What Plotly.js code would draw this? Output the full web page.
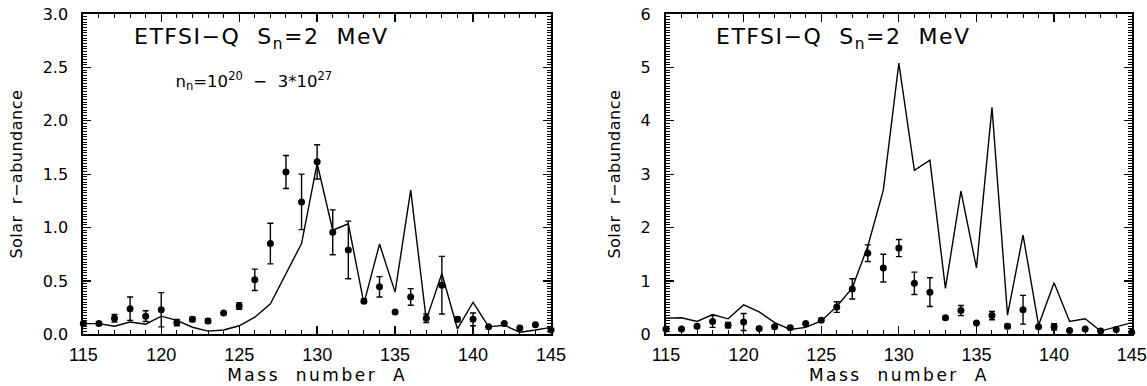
<!DOCTYPE html>
<html><head><meta charset="utf-8">
<script src="https://cdn.plot.ly/plotly-3.0.1.min.js"></script>
<style>
html,body{margin:0;padding:0;background:#fff}#chart{width:1147px;height:386px}
.annotation-text{letter-spacing:1.5px}
.annotation[data-index="1"] .annotation-text{letter-spacing:0}
.xtitle,.x2title{letter-spacing:2.5px}
.ytitle,.y2title{letter-spacing:0.5px}
</style>
</head><body><div id="chart"></div>
<script>
// Mass numbers
const massNumbers = [115,116,117,118,119,120,121,122,123,124,125,126,127,128,129,130,131,132,133,134,135,136,137,138,139,140,141,142,143,144,145];
// Solar r-process abundances (points) and their errors
const solarAbund = [0.10,0.10,0.15,0.24,0.17,0.23,0.11,0.14,0.125,0.20,0.265,0.51,0.85,1.52,1.24,1.615,0.955,0.79,0.31,0.445,0.21,0.35,0.15,0.46,0.14,0.14,0.07,0.10,0.06,0.09,0.04];
const solarErr   = [0.01,0.01,0.035,0.11,0.05,0.16,0.03,0.02,0.02,0,0.03,0.10,0.19,0.155,0.26,0.16,0.21,0.27,0.02,0.095,0,0.078,0.04,0.27,0.02,0.06,0,0,0,0,0];
// Calculated abundances, left panel (n_n = 1e20 - 3e27)
const calcLeft  = [0.10,0.10,0.075,0.115,0.095,0.17,0.13,0.066,0.03,0.04,0.08,0.16,0.285,0.57,0.85,1.60,0.975,1.035,0.29,0.845,0.395,1.35,0.135,0.57,0.05,0.30,0.07,0.085,0.02,0.04,0.065];
// Calculated abundances, right panel
const calcRight = [0.30,0.31,0.24,0.37,0.29,0.55,0.42,0.22,0.09,0.13,0.25,0.52,0.87,1.65,2.70,5.08,3.07,3.26,0.86,2.68,1.245,4.25,0.36,1.86,0.17,0.965,0.24,0.29,0.06,0.14,0.22];

const xTickVals = [115,120,125,130,135,140,145];
const leftYTicks = [0,0.5,1,1.5,2,2.5,3];
const leftYText = ['0.0','0.5','1.0','1.5','2.0','2.5','3.0'];
const rightYTicks = [0,1,2,3,4,5,6];

const FONT = 'DejaVu Sans, sans-serif';
const XTICKFONT = 'Liberation Sans, Arial, sans-serif';

function lineTrace(y, xa, ya){
  return {x: massNumbers, y: y, xaxis: xa, yaxis: ya, mode: 'lines', type: 'scatter',
    line: {color: '#000', width: 1.4}, hoverinfo: 'skip', showlegend: false, cliponaxis: false};
}
function pointTrace(xa, ya){
  return {x: massNumbers, y: solarAbund, xaxis: xa, yaxis: ya, mode: 'markers', type: 'scatter',
    marker: {color: '#000', size: 7}, showlegend: false, cliponaxis: false,
    error_y: {type: 'data', array: solarErr, visible: true, color: '#000', thickness: 1.4, width: 3}};
}

const data = [
  lineTrace(calcLeft, 'x', 'y'), pointTrace('x', 'y'),
  lineTrace(calcRight, 'x2', 'y2'), pointTrace('x2', 'y2')
];

function xAxis(domain, anchor){
  return {domain: domain, anchor: anchor, range: [115,145], tickmode: 'array', tickvals: xTickVals,
    ticks: 'inside', ticklen: 8, tickwidth: 1.3, tickcolor: '#000',
    minor: {dtick: 1, tick0: 115, ticks: 'inside', ticklen: 4, tickwidth: 1, tickcolor: '#000'},
    showline: true, linewidth: 2, linecolor: '#000', mirror: 'allticks',
    showgrid: false, zeroline: false, tickfont: {family: XTICKFONT, size: 18, color: '#000'},
    ticklabelstandoff: 3, ticklabeloverflow: 'allow',
    title: {text: 'Mass\u00a0\u00a0number\u00a0\u00a0A', font: {family: FONT, size: 17, color: '#000'}, standoff: 0}};
}
function yAxis(domain, anchor, range, tv, tt, minorD){
  return {domain: domain, anchor: anchor, range: range, tickmode: 'array', tickvals: tv, ticktext: tt,
    ticks: 'inside', ticklen: 8, tickwidth: 1.3, tickcolor: '#000',
    minor: {dtick: minorD, tick0: 0, ticks: 'inside', ticklen: 4, tickwidth: 1, tickcolor: '#000'},
    showline: true, linewidth: 2, linecolor: '#000', mirror: 'allticks',
    showgrid: false, zeroline: false, tickfont: {family: FONT, size: 16, color: '#000'},
    ticklabelstandoff: 10, ticklabeloverflow: 'allow',
    title: {text: 'Solar\u00a0\u00a0r\u2212abundance', font: {family: FONT, size: 16, color: '#000'}, standoff: 16}};
}

const yDom = [1 - 334.3/386, 1 - 14/386];
const layout = {
  width: 1147, height: 386, margin: {l: 0, r: 0, t: 0, b: 0},
  paper_bgcolor: '#fff', plot_bgcolor: '#fff',
  xaxis: xAxis([83.3/1147, 551/1147], 'y'),
  yaxis: yAxis(yDom, 'x', [0,3], leftYTicks, leftYText, 0.025),
  xaxis2: xAxis([666/1147, 1131.7/1147], 'y2'),
  yaxis2: yAxis(yDom, 'x2', [0,6], rightYTicks, rightYTicks.map(String), 0.05),
  annotations: [
    {xref: 'x domain', yref: 'y domain', x: 0.105, y: 0.925, xanchor: 'left', yanchor: 'middle', showarrow: false,
     text: 'ETFSI\u2212Q\u00a0\u00a0S<sub>n</sub>=2\u00a0\u00a0MeV', font: {family: FONT, size: 22, color: '#000'}},
    {xref: 'x domain', yref: 'y domain', x: 0.165, y: 0.79, xanchor: 'left', yanchor: 'middle', showarrow: false,
     text: 'n<sub>n</sub>=10<sup>20</sup>\u00a0\u00a0\u2212\u00a0\u00a03*10<sup>27</sup>', font: {family: FONT, size: 16.5, color: '#000'}},
    {xref: 'x2 domain', yref: 'y2 domain', x: 0.103, y: 0.925, xanchor: 'left', yanchor: 'middle', showarrow: false,
     text: 'ETFSI\u2212Q\u00a0\u00a0S<sub>n</sub>=2\u00a0\u00a0MeV', font: {family: FONT, size: 22, color: '#000'}}
  ]
};

Plotly.newPlot('chart', data, layout, {displayModeBar: false, staticPlot: true});
</script></body></html>
